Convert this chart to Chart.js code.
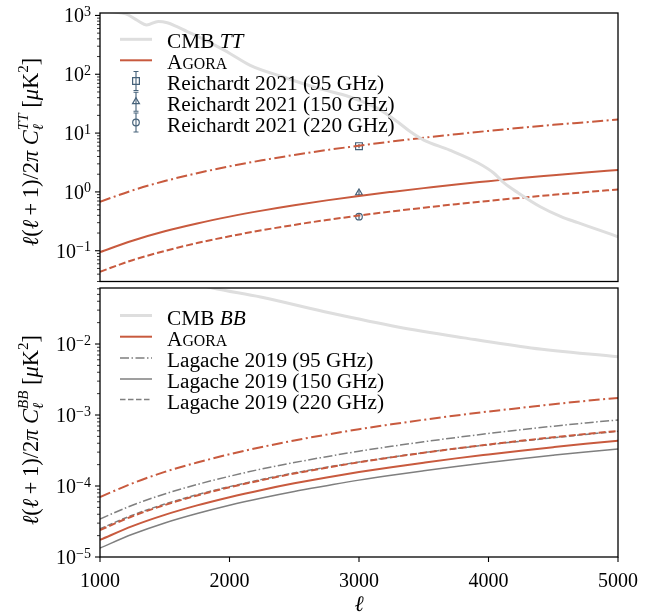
<!DOCTYPE html>
<html>
<head>
<meta charset="utf-8">
<title>Agora CIB power spectra</title>
<script src="https://cdn.jsdelivr.net/npm/chart.js@4.4.1/dist/chart.umd.min.js"></script>
<style>
  html, body { margin: 0; padding: 0; background: #fff; }
  #wrap { position: relative; width: 662px; height: 614px; }
  canvas { position: absolute; left: 0; top: 0; }
</style>
</head>
<body>
<div id="wrap">
  <canvas id="tt" width="662" height="614"></canvas>
  <canvas id="bb" width="662" height="614"></canvas>
</div>
<script>
// multipoles where the model curves are sampled
const ell = [1000, 1250, 1500, 1750, 2000, 2250, 2500, 2750, 3000, 3250, 3500, 3750, 4000, 4250, 4500, 4750, 5000];

// --- TT panel ---
const ellCmbTT = [1000, 1100, 1200, 1290, 1360, 1450, 1520, 1590, 1670, 1770, 1890, 2000, 2160, 2420, 2680,
                  2930, 3140, 3300, 3400, 3500, 3700, 3920, 4040, 4120, 4230, 4400, 4560, 4690, 4850, 5000];
const cmbTT = [1200, 1150, 1060, 820, 690, 790, 750, 650, 536, 424, 309, 228, 142, 89, 58,
               41, 26.5, 15.4, 10.4, 7.6, 5.15, 3.1, 2.1, 1.42, 0.96, 0.56, 0.38, 0.30, 0.227, 0.173];
const agoraTT95  = [0.68, 1.06, 1.53, 2.08, 2.72, 3.44, 4.25, 5.14, 6.1, 7.18, 8.33, 9.56, 10.9, 12.3, 13.8, 15.3, 17.0];
const agoraTT150 = [0.095, 0.148, 0.214, 0.291, 0.38, 0.481, 0.594, 0.718, 0.855, 1.0, 1.16, 1.34, 1.52, 1.72, 1.92, 2.14, 2.36];
const agoraTT220 = [0.044, 0.069, 0.099, 0.135, 0.176, 0.223, 0.275, 0.333, 0.396, 0.465, 0.539, 0.619, 0.704, 0.795, 0.891, 0.993, 1.10];
const reichardtEll = 3000;
const reichardtVals = [6.0, 0.96, 0.38];   // 95, 150, 220 GHz
const reichardtErrs = [0.5, 0.1, 0.04];

// --- BB panel ---
const ellCmbBB = [1000, 1500, 1870, 2240, 2780, 3300, 3810, 4330, 5000];
const cmbBB = [0.15, 0.09, 0.0615, 0.0459, 0.0273, 0.0174, 0.0122, 0.0088, 0.0066];
const agoraBB95  = [7.0e-5, 1.09e-4, 1.58e-4, 2.14e-4, 2.8e-4, 3.54e-4, 4.38e-4, 5.29e-4, 6.3e-4, 7.39e-4, 8.58e-4, 9.84e-4, 1.12e-3, 1.26e-3, 1.42e-3, 1.58e-3, 1.74e-3];
const agoraBB150 = [1.74e-5, 2.72e-5, 3.92e-5, 5.33e-5, 6.96e-5, 8.81e-5, 1.09e-4, 1.32e-4, 1.57e-4, 1.84e-4, 2.13e-4, 2.45e-4, 2.78e-4, 3.14e-4, 3.52e-4, 3.93e-4, 4.35e-4];
const agoraBB220 = [2.4e-5, 3.75e-5, 5.4e-5, 7.35e-5, 9.6e-5, 1.21e-4, 1.5e-4, 1.81e-4, 2.16e-4, 2.53e-4, 2.94e-4, 3.37e-4, 3.84e-4, 4.33e-4, 4.86e-4, 5.41e-4, 5.95e-4];
const lagache95  = [3.43e-5, 5.36e-5, 7.72e-5, 1.05e-4, 1.37e-4, 1.74e-4, 2.14e-4, 2.59e-4, 3.09e-4, 3.62e-4, 4.2e-4, 4.82e-4, 5.49e-4, 6.2e-4, 6.95e-4, 7.74e-4, 8.5e-4];
const lagache150 = [1.34e-5, 2.09e-5, 3.02e-5, 4.1e-5, 5.36e-5, 6.78e-5, 8.38e-5, 1.01e-4, 1.21e-4, 1.42e-4, 1.64e-4, 1.88e-4, 2.14e-4, 2.42e-4, 2.71e-4, 3.02e-4, 3.33e-4];
const lagache220 = [2.5e-5, 3.88e-5, 5.57e-5, 7.55e-5, 9.8e-5, 1.24e-4, 1.53e-4, 1.84e-4, 2.18e-4, 2.55e-4, 2.95e-4, 3.37e-4, 3.81e-4, 4.28e-4, 4.78e-4, 5.32e-4, 5.9e-4];

const xTicks = [1000, 2000, 3000, 4000, 5000];

const ORANGE = '#c85a3e';
const GREY = '#7f7f7f';
const CMB = '#dedede';
const MARK = '#46627a';
const serif = '"Liberation Serif", "Times New Roman", Times, serif';

const pts = (xs, ys) => xs.map((x, i) => ({ x: x, y: ys[i] }));

function curve(data, color, width, dash) {
  return {
    data: data, showLine: true, borderColor: color, borderWidth: width, borderDash: dash || [],
    pointRadius: 0, pointHoverRadius: 0, fill: false, cubicInterpolationMode: 'monotone', clip: 0
  };
}

function marker(val, err, style, r) {
  return {
    data: [{ x: reichardtEll, y: val }], errs: [err], showLine: false,
    borderColor: MARK, backgroundColor: 'rgba(0,0,0,0)', pointStyle: style,
    pointRadius: r, pointBorderWidth: 1.2, pointBorderColor: MARK, pointBackgroundColor: 'rgba(0,0,0,0)'
  };
}

function setFont(ctx, size, it) {
  ctx.font = (it ? 'italic ' : '') + size + 'px ' + serif;
}

function runsWidth(ctx, runs, base) {
  let w = 0;
  for (const r of runs) {
    setFont(ctx, r.size || base, r.it);
    if (r.adv !== false) w += ctx.measureText(r.t).width;
  }
  return w;
}

function drawRuns(ctx, runs, x, y, base) {
  for (const r of runs) {
    setFont(ctx, r.size || base, r.it);
    ctx.fillText(r.t, x, y + (r.dy || 0));
    if (r.adv !== false) x += ctx.measureText(r.t).width;
  }
  return x;
}

function yTitle(sup) {
  return [
    { t: 'ℓ', it: true }, { t: '(' }, { t: 'ℓ', it: true }, { t: '\u2009+\u20091)/2' }, { t: 'π', it: true },
    { t: ' ' }, { t: 'C', it: true },
    { t: 'ℓ', it: true, size: 15, dy: 5, adv: false }, { t: sup, it: true, size: 15, dy: -10 },
    { t: ' [' }, { t: 'μ', it: true }, { t: 'K' }, { t: '2', size: 15, dy: -10 }, { t: ']' }
  ];
}

const agoraRuns = [{ t: 'A' }, { t: 'GORA', size: 15.8 }];

// per-panel decorations drawn by the plugin below
const panelInfo = {
  tt: {
    xTicks: false,
    title: yTitle('TT'), titleCenter: 152,
    legendY: [39.3, 60.3, 81, 101.7, 122.5],
    legend: [
      { ds: 0, runs: [{ t: 'CMB ' }, { t: 'TT', it: true }] },
      { ds: 2, runs: agoraRuns },
      { ds: 4, runs: [{ t: 'Reichardt 2021 (95 GHz)' }] },
      { ds: 5, runs: [{ t: 'Reichardt 2021 (150 GHz)' }] },
      { ds: 6, runs: [{ t: 'Reichardt 2021 (220 GHz)' }] }
    ]
  },
  bb: {
    xTicks: true,
    title: yTitle('BB'), titleCenter: 430,
    legendY: [315.5, 336.7, 358, 379, 399.5],
    legend: [
      { ds: 0, runs: [{ t: 'CMB ' }, { t: 'BB', it: true }] },
      { ds: 2, runs: agoraRuns },
      { ds: 4, runs: [{ t: 'Lagache 2019 (95 GHz)' }] },
      { ds: 5, runs: [{ t: 'Lagache 2019 (150 GHz)' }] },
      { ds: 6, runs: [{ t: 'Lagache 2019 (220 GHz)' }] }
    ]
  }
};

function errorBar(ctx, x, y0, y1, cap) {
  ctx.beginPath();
  ctx.moveTo(x, y0); ctx.lineTo(x, y1);
  if (cap) {
    ctx.moveTo(x - cap, y0); ctx.lineTo(x + cap, y0);
    ctx.moveTo(x - cap, y1); ctx.lineTo(x + cap, y1);
  }
  ctx.stroke();
}

const mplAxes = {
  id: 'mplAxes',
  beforeDatasetsDraw(chart) {
    const ctx = chart.ctx, xs = chart.scales.x, ys = chart.scales.y;
    ctx.save();
    chart.data.datasets.forEach(ds => {
      if (!ds.errs) return;
      ctx.strokeStyle = ds.borderColor;
      ctx.lineWidth = 1.2;
      ds.data.forEach((p, i) => {
        const px = xs.getPixelForValue(p.x);
        errorBar(ctx, px, ys.getPixelForValue(p.y - ds.errs[i]), ys.getPixelForValue(p.y + ds.errs[i]), 0);
      });
    });
    ctx.restore();
  },
  afterDraw(chart) {
    const info = panelInfo[chart.canvas.id];
    const ctx = chart.ctx, a = chart.chartArea;
    const xs = chart.scales.x, ys = chart.scales.y;
    ctx.save();
    ctx.fillStyle = '#000';
    ctx.strokeStyle = '#000';
    ctx.setLineDash([]);

    // frame
    ctx.lineWidth = 1.3;
    ctx.strokeRect(a.left, a.top, a.right - a.left, a.bottom - a.top);

    // log ticks and 10^n labels on the left edge
    const lo = Math.floor(Math.log10(ys.min)), hi = Math.ceil(Math.log10(ys.max));
    for (let e = lo; e <= hi; e++) {
      for (let k = 1; k <= 9; k++) {
        const v = k * Math.pow(10, e);
        if (v < ys.min * 0.999 || v > ys.max * 1.001) continue;
        const py = ys.getPixelForValue(v);
        ctx.lineWidth = k === 1 ? 1.1 : 0.8;
        ctx.beginPath();
        ctx.moveTo(a.left, py);
        ctx.lineTo(a.left - (k === 1 ? 5 : 3), py);
        ctx.stroke();
        if (k === 1) {
          const ex = (e < 0 ? '\u2212' : '') + Math.abs(e);
          setFont(ctx, 14);
          const we = ctx.measureText(ex).width;
          ctx.textAlign = 'left';
          ctx.fillText(ex, 91 - we, py + 0.5);
          setFont(ctx, 20);
          ctx.textAlign = 'right';
          ctx.fillText('10', 91 - we, py + 7);
        }
      }
    }

    // x ticks only under the lower panel
    if (info.xTicks) {
      ctx.lineWidth = 1.1;
      setFont(ctx, 20);
      ctx.textAlign = 'center';
      xTicks.forEach(v => {
        const px = xs.getPixelForValue(v);
        ctx.beginPath();
        ctx.moveTo(px, a.bottom);
        ctx.lineTo(px, a.bottom + 5);
        ctx.stroke();
        ctx.fillText(String(v), px, a.bottom + 30);
      });
      setFont(ctx, 22, true);
      ctx.fillText('ℓ', (a.left + a.right) / 2, 611);
    }

    // rotated y title
    ctx.textAlign = 'left';
    ctx.save();
    ctx.translate(38, info.titleCenter);
    ctx.rotate(-Math.PI / 2);
    const tw = runsWidth(ctx, info.title, 22.5);
    drawRuns(ctx, info.title, -tw / 2, 0, 22.5);
    ctx.restore();

    // legend, no frame
    info.legend.forEach((item, i) => {
      const ds = chart.data.datasets[item.ds];
      const y = info.legendY[i];
      if (ds.showLine) {
        ctx.strokeStyle = ds.borderColor;
        ctx.lineWidth = ds.borderWidth;
        ctx.setLineDash(ds.borderDash);
        ctx.beginPath();
        ctx.moveTo(120, y);
        ctx.lineTo(152, y);
        ctx.stroke();
        ctx.setLineDash([]);
      } else {
        ctx.strokeStyle = ds.borderColor;
        ctx.fillStyle = 'rgba(0,0,0,0)';
        ctx.lineWidth = 1.1;
        errorBar(ctx, 136, y - 9.5, y + 9.5, 2.5);
        ctx.lineWidth = ds.pointBorderWidth;
        Chart.helpers.drawPoint(ctx, { pointStyle: ds.pointStyle, radius: ds.pointRadius, rotation: 0, borderWidth: ds.pointBorderWidth }, 136, y);
      }
      ctx.fillStyle = '#000';
      drawRuns(ctx, item.runs, 167, y + 9, 21.3);
    });
    ctx.restore();
  }
};

function makePanel(id, datasets, yMin, yMax, pad) {
  return new Chart(document.getElementById(id), {
    type: 'scatter',
    data: { datasets: datasets },
    options: {
      responsive: false,
      animation: false,
      events: [],
      layout: { padding: pad },
      plugins: { legend: { display: false }, tooltip: { enabled: false } },
      scales: {
        x: { type: 'linear', min: 1000, max: 5000, display: false },
        y: { type: 'logarithmic', min: yMin, max: yMax, display: false }
      }
    },
    plugins: [mplAxes]
  });
}

const DASH = [7, 3];
const DASHDOT = [11, 3.5, 2, 3.5];
const GDASH = [5.5, 2.5];
const GDASHDOT = [9, 2.5, 1.5, 2.5];

makePanel('tt', [
  curve(pts(ellCmbTT, cmbTT), CMB, 3),
  curve(pts(ell, agoraTT95), ORANGE, 2, DASHDOT),
  curve(pts(ell, agoraTT150), ORANGE, 2),
  curve(pts(ell, agoraTT220), ORANGE, 2, DASH),
  marker(reichardtVals[0], reichardtErrs[0], 'rect', 4.8),
  marker(reichardtVals[1], reichardtErrs[1], 'triangle', 4),
  marker(reichardtVals[2], reichardtErrs[2], 'circle', 3.3)
], 0.03, 1100, { left: 100, top: 13, right: 44, bottom: 614 - 281.5 });

makePanel('bb', [
  curve(pts(ellCmbBB, cmbBB), CMB, 3),
  curve(pts(ell, agoraBB95), ORANGE, 2, DASHDOT),
  curve(pts(ell, agoraBB150), ORANGE, 2),
  curve(pts(ell, agoraBB220), ORANGE, 2, DASH),
  curve(pts(ell, lagache95), GREY, 1.5, GDASHDOT),
  curve(pts(ell, lagache150), GREY, 1.5),
  curve(pts(ell, lagache220), GREY, 1.5, GDASH)
], 1e-5, 0.0615, { left: 100, top: 288, right: 44, bottom: 57 });
</script>
</body>
</html>
